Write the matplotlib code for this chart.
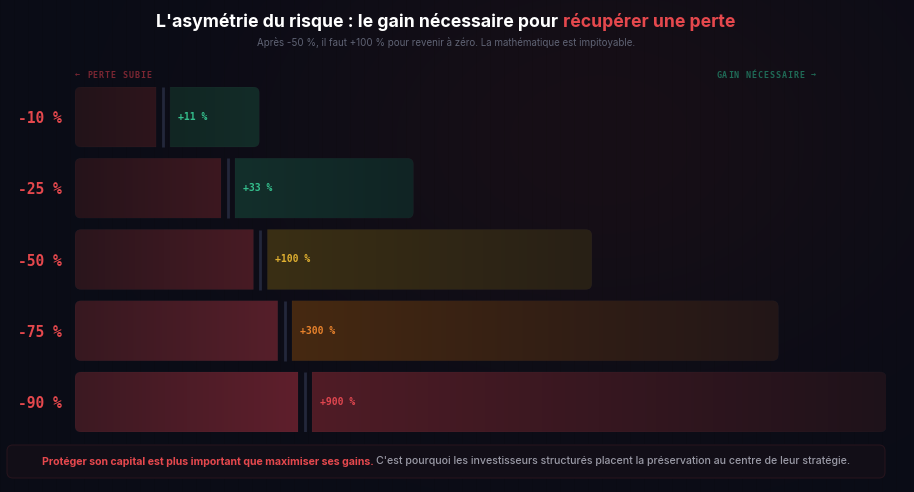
import matplotlib
matplotlib.use("Agg")
import matplotlib.pyplot as plt
import numpy as np
from matplotlib.path import Path
from matplotlib.patches import PathPatch, FancyBboxPatch

W, H = 914, 492

# données
losses = [10, 25, 50, 75, 90]
gains = [11, 33, 100, 300, 900]
# longueur des barres, en % de la piste
loss_len = [10, 18, 22, 25, 27.5]
gain_len = [11, 22, 40, 60, 70.8]
row_labels = [f"-{v} %" for v in losses]
gain_labels = [f"+{v} %" for v in gains]

title_a = "L'asymétrie du risque : le gain nécessaire pour"
title_b = "récupérer une perte"
subtitle = "Après -50 %, il faut +100 % pour revenir à zéro. La mathématique est impitoyable."
left_head = "← PERTE SUBIE"
right_head = "GAIN NÉCESSAIRE →"
foot_a = "Protéger son capital est plus important que maximiser ses gains."
foot_b = "C'est pourquoi les investisseurs structurés placent la préservation au centre de leur stratégie."

# couleurs (gauche -> droite)
loss_cols = [((34, 19, 25), (46, 21, 28)),
             ((37, 19, 26), (60, 24, 32)),
             ((42, 21, 28), (72, 27, 36)),
             ((55, 24, 32), (86, 31, 42)),
             ((60, 25, 34), (95, 31, 44))]
gain_cols = [((17, 38, 35), (19, 44, 40)),
             ((19, 47, 43), (16, 36, 36)),
             ((58, 47, 20), (40, 32, 22)),
             ((70, 41, 17), (34, 22, 24)),
             ((80, 28, 38), (30, 18, 26))]
label_cols = ['#34be8c', '#34be8c', '#e0b030', '#e8822c', '#e0464f']
RED = '#e5484d'


def round_rect(x0, x1, y0, y1, rx, ry, side):
    # rectangle arrondi d'un seul côté
    if side == 'left':
        verts = [(x0 + rx, y0), (x1, y0), (x1, y1), (x0 + rx, y1),
                 (x0, y1), (x0, y1 - ry), (x0, y0 + ry), (x0, y0),
                 (x0 + rx, y0), (x0 + rx, y0)]
    else:
        verts = [(x1 - rx, y0), (x0, y0), (x0, y1), (x1 - rx, y1),
                 (x1, y1), (x1, y1 - ry), (x1, y0 + ry), (x1, y0),
                 (x1 - rx, y0), (x1 - rx, y0)]
    codes = [Path.MOVETO, Path.LINETO, Path.LINETO, Path.LINETO,
             Path.CURVE3, Path.CURVE3, Path.LINETO, Path.CURVE3,
             Path.CURVE3, Path.CLOSEPOLY]
    return Path(verts, codes)


def grad_bar(ax, x0, x1, y0, y1, c0, c1, side, rx, ry):
    path = round_rect(x0, x1, y0, y1, rx, ry, side)
    patch = PathPatch(path, facecolor='none', edgecolor=(1, 1, 1, 0.025),
                      lw=0.6, transform=ax.transData, zorder=3)
    ax.add_patch(patch)
    t = np.linspace(0, 1, 256)
    arr = np.zeros((1, 256, 3))
    for k in range(3):
        arr[0, :, k] = (c0[k] + (c1[k] - c0[k]) * t) / 255
    im = ax.imshow(arr, extent=[x0, x1, y1, y0], aspect='auto',
                   interpolation='bilinear', zorder=2)
    im.set_clip_path(patch)


fig = plt.figure(figsize=(W / 100, H / 100), dpi=100)

# fond
bg = fig.add_axes([0, 0, 1, 1], zorder=0)
yy, xx = np.mgrid[0:H, 0:W]
base = np.array([10, 12, 22]) / 255
glowc = np.array([23, 15, 22]) / 255
glow = np.exp(-(((xx - 600) / 320) ** 2 + ((yy - 140) / 230) ** 2))
img = base + (glowc - base) * glow[..., None]
img = img * (1 - 0.05 * ((xx % 14) == 0))[..., None]
bg.imshow(img, extent=[0, W, H, 0], aspect='auto')
bg.set_xlim(0, W)
bg.set_ylim(H, 0)
bg.axis('off')

# axe des barres
ax = fig.add_axes([75 / W, 1 - 432 / H, 811 / W, 345 / H], zorder=1)
ax.patch.set_alpha(0)
h = 60 / 71.25
sx = 811 / 100
sy = 71.25
rx, ry = 6 / sx, 6 / sy
gap = 14 / sx

for i in range(len(losses)):
    y0, y1 = i - h / 2, i + h / 2
    grad_bar(ax, 0, loss_len[i], y0, y1, *loss_cols[i], 'left', rx, ry)
    ax.vlines(loss_len[i] + gap / 2, y0, y1, color='#23273b', lw=2, zorder=3)
    gs = loss_len[i] + gap
    grad_bar(ax, gs, gs + gain_len[i], y0, y1, *gain_cols[i], 'right', rx, ry)
    ax.text(gs + 8 / sx, i, gain_labels[i], va='center', ha='left',
            fontfamily='DejaVu Sans Mono', fontweight='bold', fontsize=7,
            color=label_cols[i], zorder=4)

ax.set_xlim(0, 100)
ax.set_ylim(len(losses) - 1 + h / 2, -h / 2)
ax.set_xticks([])
ax.set_yticks(range(len(losses)))
ax.set_yticklabels(row_labels, fontfamily='DejaVu Sans Mono',
                   fontweight='bold', fontsize=10.5, color=RED)
ax.tick_params(axis='y', length=0, pad=9.5)
for s in ax.spines.values():
    s.set_visible(False)

# en-têtes espacés
adv = 5.94
for k, ch in enumerate(left_head):
    bg.text(75 + k * adv, 75, ch, ha='left', va='center', fontsize=6,
            fontfamily='DejaVu Sans Mono', fontweight='bold', color='#7a2632')
x_r = 817 - len(right_head) * adv
for k, ch in enumerate(right_head):
    bg.text(x_r + k * adv, 75, ch, ha='left', va='center', fontsize=6,
            fontfamily='DejaVu Sans Mono', fontweight='bold', color='#1f6a56')

# titres
cx = 446
fig.canvas.draw()
r = fig.canvas.get_renderer()
t1 = bg.text(0, 22, title_a, ha='left', va='center', fontfamily='Inter',
             fontweight='bold', fontsize=12.7, color='white')
t2 = bg.text(0, 22, title_b, ha='left', va='center', fontfamily='Inter',
             fontweight='bold', fontsize=12.7, color=RED)
w1 = t1.get_window_extent(r).width
w2 = t2.get_window_extent(r).width
sp = 4.5
x0 = cx - (w1 + sp + w2) / 2
t1.set_x(x0)
t2.set_x(x0 + w1 + sp)
bg.text(cx, 43, subtitle, ha='center', va='center', fontfamily='Inter',
        fontsize=7, color='#5f6374')

# encadré du bas
bg.add_patch(FancyBboxPatch((7, 445), 878, 33,
                            boxstyle='round,pad=0,rounding_size=6',
                            fc='#120e17', ec='#26141d', lw=0.8))
f1 = bg.text(0, 461.5, foot_a, ha='left', va='center', fontfamily='Inter',
             fontweight='bold', fontsize=7.62, color=RED)
f2 = bg.text(0, 461.5, foot_b, ha='left', va='center', fontfamily='Inter',
             fontweight='medium', fontsize=7.62, color='#9a9aa6')
w1 = f1.get_window_extent(r).width
w2 = f2.get_window_extent(r).width
sp = 2.5
x0 = cx - (w1 + sp + w2) / 2
f1.set_x(x0)
f2.set_x(x0 + w1 + sp)

fig.savefig('out.png', dpi=100, facecolor='#0a0c16')
